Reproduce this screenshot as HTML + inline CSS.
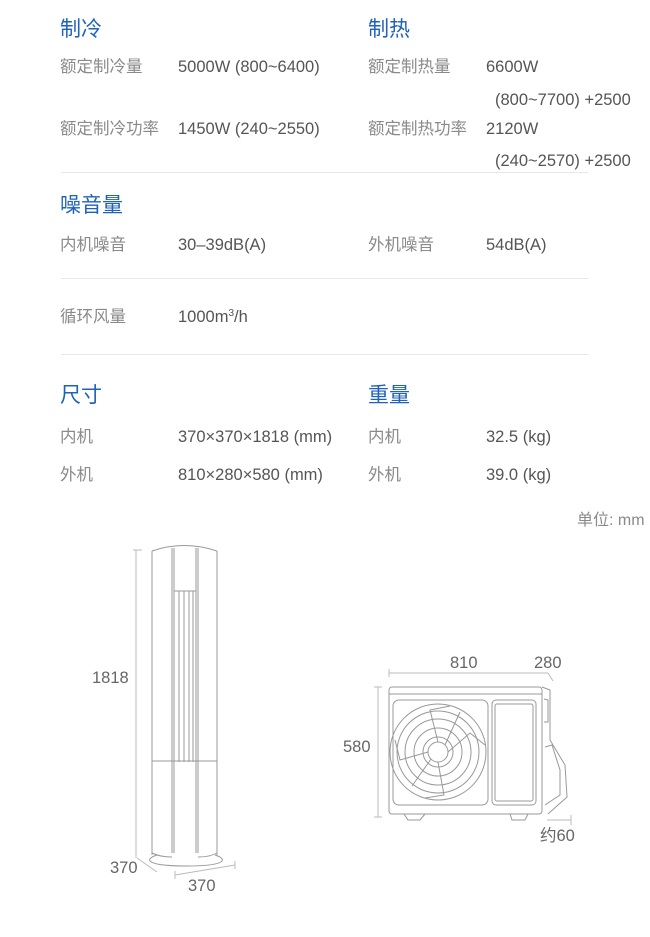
<!DOCTYPE html>
<html><head><meta charset="utf-8">
<style>
html,body{margin:0;padding:0;background:#fff;}
body{width:650px;height:937px;position:relative;overflow:hidden;font-family:"Liberation Sans","Noto Sans CJK SC",sans-serif;}
.t{position:absolute;white-space:nowrap;line-height:1;}
.h{font-size:21px;color:#1f62b9;}
.l{font-size:16.5px;color:#8a8a8a;}
.v{font-size:16.5px;color:#555;}
.hr{position:absolute;left:61px;width:527px;height:1px;background:#e8e8e8;}
svg{position:absolute;left:0;top:0;}
</style></head><body>
<div class="t h" style="left:60px;top:19px">制冷</div>
<div class="t h" style="left:368px;top:19px">制热</div>
<div class="t l" style="left:60px;top:59px">额定制冷量</div>
<div class="t v" style="left:178px;top:59px">5000W (800~6400)</div>
<div class="t l" style="left:368px;top:59px">额定制热量</div>
<div class="t v" style="left:486px;top:59px">6600W</div>
<div class="t v" style="left:495px;top:92px">(800~7700) +2500</div>
<div class="t l" style="left:60px;top:121px">额定制冷功率</div>
<div class="t v" style="left:178px;top:121px">1450W (240~2550)</div>
<div class="t l" style="left:368px;top:121px">额定制热功率</div>
<div class="t v" style="left:486px;top:121px">2120W</div>
<div class="t v" style="left:495px;top:153px">(240~2570) +2500</div>
<div class="hr" style="top:172px"></div>
<div class="t h" style="left:60px;top:195px">噪音量</div>
<div class="t l" style="left:60px;top:237px">内机噪音</div>
<div class="t v" style="left:178px;top:237px">30–39dB(A)</div>
<div class="t l" style="left:368px;top:237px">外机噪音</div>
<div class="t v" style="left:486px;top:237px">54dB(A)</div>
<div class="hr" style="top:278px"></div>
<div class="t l" style="left:60px;top:309px">循环风量</div>
<div class="t v" style="left:178px;top:309px">1000m<sup style="font-size:10px;vertical-align:6px">3</sup>/h</div>
<div class="hr" style="top:354px"></div>
<div class="t h" style="left:60px;top:385px">尺寸</div>
<div class="t h" style="left:368px;top:385px">重量</div>
<div class="t l" style="left:60px;top:429px">内机</div>
<div class="t v" style="left:178px;top:429px">370×370×1818 (mm)</div>
<div class="t l" style="left:368px;top:429px">内机</div>
<div class="t v" style="left:486px;top:429px">32.5 (kg)</div>
<div class="t l" style="left:60px;top:467px">外机</div>
<div class="t v" style="left:178px;top:467px">810×280×580 (mm)</div>
<div class="t l" style="left:368px;top:467px">外机</div>
<div class="t v" style="left:486px;top:467px">39.0 (kg)</div>
<div class="t l" style="left:577px;top:513px;font-size:16px">单位: mm</div>

<div class="t v" style="left:92px;top:670px;color:#666">1818</div>
<div class="t v" style="left:110px;top:860px;color:#666">370</div>
<div class="t v" style="left:188px;top:878px;color:#666">370</div>
<div class="t v" style="left:450px;top:655px;color:#666">810</div>
<div class="t v" style="left:534px;top:655px;color:#666">280</div>
<div class="t v" style="left:343px;top:739px;color:#666">580</div>
<div class="t v" style="left:540px;top:828px;color:#666">约60</div>

<svg width="650" height="937" viewBox="0 0 650 937" fill="none" stroke="#999" stroke-width="1">
<line x1="136" y1="550" x2="136" y2="858" stroke="#bbb"/>
<line x1="133" y1="550" x2="142" y2="550" stroke="#bbb"/>
<line x1="137" y1="858" x2="157" y2="872" stroke="#bbb"/>
<line x1="175" y1="875" x2="235" y2="865" stroke="#bbb"/>
<line x1="175" y1="871" x2="175" y2="879" stroke="#bbb"/>
<line x1="235" y1="861" x2="235" y2="869" stroke="#bbb"/>
<path d="M152 551 Q184 540 217 551"/>
<line x1="152" y1="551" x2="152" y2="855"/>
<line x1="217" y1="551" x2="217" y2="855"/>
<line x1="172" y1="548" x2="172" y2="853"/><line x1="174" y1="548" x2="174" y2="853"/>
<line x1="196" y1="548" x2="196" y2="853"/><line x1="198" y1="548" x2="198" y2="853"/>
<line x1="174" y1="591" x2="196" y2="591"/>
<line x1="179" y1="591" x2="179" y2="762"/><line x1="184" y1="591" x2="184" y2="762"/>
<line x1="189" y1="591" x2="189" y2="762"/><line x1="193" y1="591" x2="193" y2="762"/>
<line x1="152" y1="761" x2="217" y2="761"/>
<path d="M152 853 Q160 857 172 857 M198 857 Q210 857 217 853"/>
<path d="M157 855 Q148 858 150 861 Q155 866 186 866 Q218 866 222 861 Q224 858 215 855"/>
<line x1="389" y1="673" x2="548" y2="673" stroke="#bbb"/>
<line x1="389" y1="669" x2="389" y2="677" stroke="#bbb"/>
<line x1="548" y1="673" x2="553" y2="681" stroke="#bbb"/>
<line x1="378" y1="687" x2="378" y2="817" stroke="#bbb"/>
<line x1="374" y1="687" x2="382" y2="687" stroke="#bbb"/>
<line x1="374" y1="817" x2="382" y2="817" stroke="#bbb"/>
<line x1="547" y1="820" x2="571" y2="820" stroke="#bbb"/>
<line x1="571" y1="815" x2="571" y2="825" stroke="#bbb"/>
<rect x="389" y="687" width="153" height="127" rx="3"/>
<line x1="389" y1="694" x2="542" y2="694"/>
<path d="M542 687 L550 690 L550 740 L565 765 L567 797 L548 814"/>
<path d="M544 699 L548 700 L548 722 L544 722"/>
<path d="M545 747 L552 745 L560 770 L560 795 L545 805"/>
<rect x="393" y="700" width="95" height="105" rx="6"/>
<rect x="492" y="700" width="44" height="105" rx="4"/>
<rect x="495" y="704" width="38" height="97" rx="2"/>
<circle cx="438" cy="752" r="48"/>
<circle cx="438" cy="752" r="41"/>
<circle cx="438" cy="752" r="33"/>
<circle cx="438" cy="752" r="24"/>
<circle cx="438" cy="752" r="15"/>
<circle cx="438" cy="752" r="10"/>
<path d="M438 742 L430 710 L450 706 M448 752 L470 733 L485 745 M438 762 L444 795 L425 798 M428 752 L400 760 L395 740 M445 745 L460 712 M431 759 L412 786"/>
<path d="M404 814 L408 820 L420 820 L425 814 M510 814 L512 820 L525 820 L528 814"/>
</svg>
</body></html>
